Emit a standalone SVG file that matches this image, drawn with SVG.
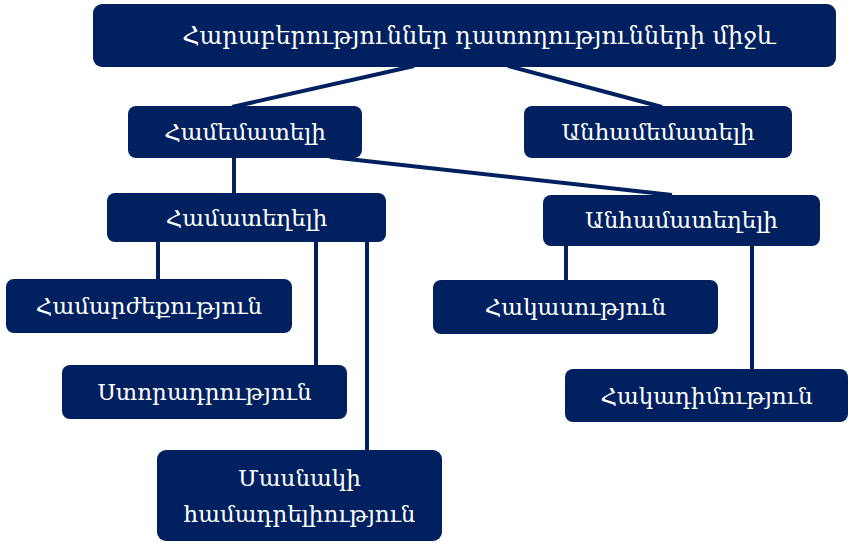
<svg xmlns="http://www.w3.org/2000/svg" width="848" height="543" viewBox="0 0 848 543">
<style>
.box{fill:#002060;}
.t{fill:#ffffff;font-family:"DejaVu Serif","Noto Serif",serif;font-size:23px;text-anchor:middle;dominant-baseline:central;}
.t.big{font-size:24px;}
.c{stroke:#002060;stroke-width:4;fill:none;}
</style>
<g id="connectors">
<line class="c" x1="414" y1="66" x2="232" y2="107"/>
<line class="c" x1="508" y1="66" x2="662" y2="107"/>
<line class="c" x1="234" y1="157" x2="234" y2="193"/>
<line class="c" x1="330" y1="157" x2="672" y2="195"/>
<line class="c" x1="158" y1="241" x2="158" y2="280"/>
<line class="c" x1="316" y1="241" x2="316" y2="366"/>
<line class="c" x1="367" y1="241" x2="367" y2="451"/>
<line class="c" x1="566" y1="245" x2="566" y2="281"/>
<line class="c" x1="752" y1="245" x2="752" y2="369"/>
</g>
<g id="root"><rect class="box" x="93" y="4" width="743" height="63" rx="9"/><text class="t big" x="479" y="36">Հարաբերություններ դատողությունների միջև</text></g>
<g id="hamematyeli"><rect class="box" x="128" y="106" width="234" height="52" rx="8"/><text class="t" x="245" y="132">Համեմատելի</text></g>
<g id="anhamematyeli"><rect class="box" x="524" y="106" width="268" height="52" rx="8"/><text class="t" x="658" y="132">Անհամեմատելի</text></g>
<g id="hamateghelii"><rect class="box" x="107" y="193" width="279" height="49" rx="8"/><text class="t" x="246.5" y="218">Համատեղելի</text></g>
<g id="anhamateghelii"><rect class="box" x="543" y="195" width="277" height="51" rx="8"/><text class="t" x="681.5" y="220">Անհամատեղելի</text></g>
<g id="hamarzhekutyun"><rect class="box" x="6" y="279" width="286" height="54" rx="8"/><text class="t" x="149" y="306">Համարժեքություն</text></g>
<g id="hakasutyun"><rect class="box" x="433" y="280" width="285" height="54" rx="8"/><text class="t" x="575.5" y="307">Հակասություն</text></g>
<g id="storadrutyun"><rect class="box" x="62" y="365" width="285" height="54" rx="8"/><text class="t" x="204.5" y="392">Ստորադրություն</text></g>
<g id="hakadimutyun"><rect class="box" x="565" y="369" width="283" height="53" rx="8"/><text class="t" x="706.5" y="396">Հակադիմություն</text></g>
<g id="masnaki"><rect class="box" x="157" y="450" width="285" height="91" rx="9"/><text class="t" x="299.5" y="478">Մասնակի</text><text class="t" x="299.5" y="514">համադրելիություն</text></g>
</svg>
